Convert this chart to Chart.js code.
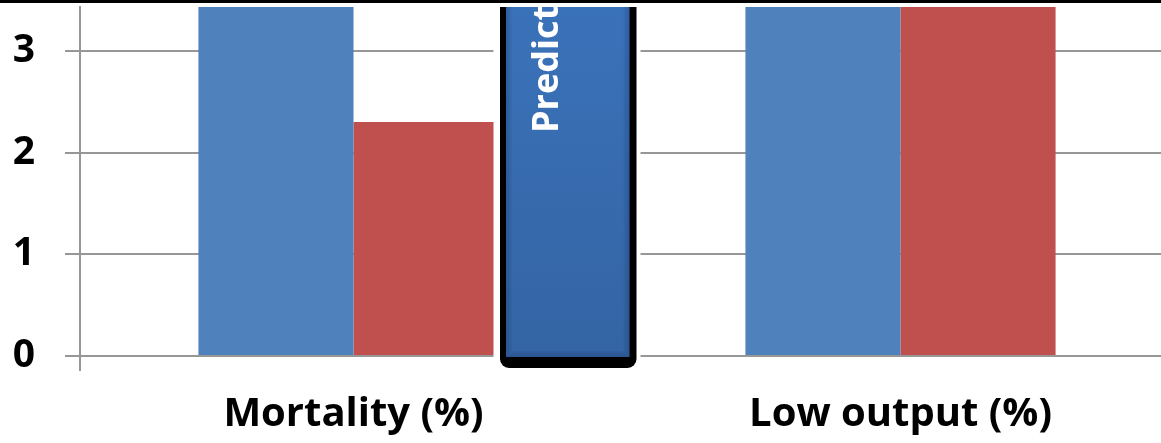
<!DOCTYPE html>
<html>
<head>
<meta charset="utf-8">
<script src="https://cdn.jsdelivr.net/npm/chart.js@4/dist/chart.umd.min.js"></script>
<style>
  html, body { margin: 0; padding: 0; background: #fff; overflow: hidden; }
  #wrap { position: relative; width: 1161px; height: 443px; overflow: hidden; }
  canvas { position: absolute; left: 0; top: 0; }
</style>
</head>
<body>
<div id="wrap"><canvas id="c" width="1180" height="443"></canvas></div>
<script>
// Outcome categories and the two compared groups
const categories = ['Mortality (%)', 'Low output (%)'];
const groupA = [4.6, 8.2];   // blue bars
const groupB = [2.3, 8.5];   // red bars
const yTicks = [0, 1, 2, 3];
const yMax = 3.43;
const boxLabel = 'Predictors';

const grey = '#979797';
const FONT = '"Open Sans"';

// Black rule across the top and the vertical "Predictors" banner
const decorations = {
  id: 'decorations',
  afterDatasetsDraw(chart) {
    const { ctx, chartArea: a, scales: { x } } = chart;
    const boundary = (x.getPixelForValue(0) + x.getPixelForValue(1)) / 2;
    const L = boundary - 127, R = boundary + 9.5;
    const top = a.top - 30, bottom = a.bottom + 12;

    ctx.save();
    ctx.beginPath();
    ctx.rect(0, a.top, chart.width, chart.height);
    ctx.clip();

    // white halo
    ctx.fillStyle = '#fff';
    ctx.fillRect(L - 6.5, top, (R - L) + 10.5, bottom - top + 5);

    // black frame with rounded corners
    ctx.fillStyle = '#000';
    ctx.beginPath();
    ctx.roundRect(L, top, R - L, bottom - top, 9);
    ctx.fill();

    // blue body with bevelled edges
    const iL = L + 6, iR = R - 7, iB = bottom - 11;
    const g = ctx.createLinearGradient(0, a.top, 0, iB);
    g.addColorStop(0, '#3a72b9');
    g.addColorStop(1, '#3464a4');
    ctx.fillStyle = g;
    ctx.fillRect(iL, top, iR - iL, iB - top);
    for (let i = 0; i < 6; i++) {
      ctx.strokeStyle = 'rgba(10,30,70,' + (0.22 - i * 0.035) + ')';
      ctx.lineWidth = 1;
      ctx.strokeRect(iL + i + 0.5, top, iR - iL - 2 * i - 1, iB - top - i - 0.5);
    }

    // rotated caption
    ctx.translate(L + 58, a.top + 126);
    ctx.rotate(-Math.PI / 2);
    ctx.fillStyle = '#fff';
    ctx.font = 'bold 36px ' + FONT;
    ctx.textAlign = 'left';
    ctx.textBaseline = 'alphabetic';
    ctx.fillText(boxLabel, 0, 0);
    ctx.restore();

    ctx.fillStyle = '#000';
    ctx.fillRect(0, 0, chart.width, 3);
  }
};

new Chart(document.getElementById('c'), {
  type: 'bar',
  data: {
    labels: categories,
    datasets: [
      { label: 'Group A', data: groupA, backgroundColor: '#4f81bd' },
      { label: 'Group B', data: groupB, backgroundColor: '#c0504d' }
    ]
  },
  options: {
    responsive: false,
    devicePixelRatio: 1,
    animation: false,
    layout: { autoPadding: false, padding: { top: 7, right: 6, left: 0, bottom: 0 } },
    datasets: { bar: { categoryPercentage: 0.567, barPercentage: 1 } },
    plugins: { legend: { display: false }, tooltip: { enabled: false } },
    scales: {
      x: {
        offset: true,
        grid: { drawOnChartArea: false, drawTicks: true, tickLength: 15, color: grey, lineWidth: 2, offset: true },
        border: { display: false },
        ticks: { color: '#000', padding: 20, font: { family: FONT, weight: 'bold', size: 40 } },
        afterFit: s => { s.height = 87; s.paddingLeft = 0; s.paddingRight = 0; }
      },
      y: {
        min: 0,
        max: yMax,
        afterBuildTicks: s => { s.ticks = yTicks.map(v => ({ value: v })); },
        grid: { color: grey, lineWidth: 2, tickLength: 15 },
        border: { display: true, color: grey, width: 2 },
        ticks: { color: '#000', padding: 30, font: { family: FONT, weight: 'bold', size: 39 } },
        afterFit: s => { s.width = 80; s.paddingTop = 0; s.paddingBottom = 0; }
      }
    }
  },
  plugins: [decorations]
});
</script>
</body>
</html>
